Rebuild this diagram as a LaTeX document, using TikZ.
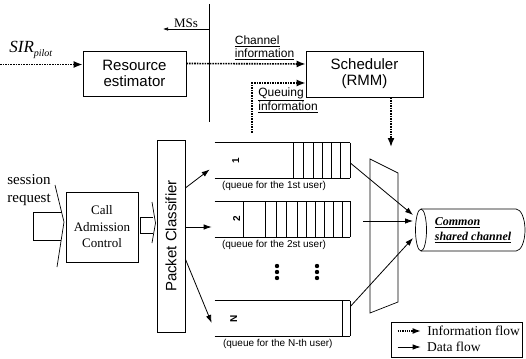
\documentclass[tikz,border=0pt]{standalone}
\usepackage{fontspec}
\setmainfont{Liberation Serif}
\setsansfont{Liberation Sans}
\usetikzlibrary{arrows.meta,positioning,calc}

\begin{document}
\begin{tikzpicture}[x=1pt,y=-1pt,>=Latex,line width=0.7pt,
 blk/.style={draw,inner sep=0pt,align=center,font=\sffamily\fontsize{15}{16}\selectfont},
 info/.style={densely dotted,line width=1.6pt,-{Latex[length=9pt,width=7pt]}},
 data/.style={line width=0.8pt,-{Latex[length=8pt,width=5.5pt]}},
 lbl/.style={inner sep=0pt,align=left,font=\sffamily\fontsize{12}{13}\selectfont},
 qlane/.style={inner sep=0pt,minimum width=135pt,minimum height=35pt},
 qnum/.style={inner sep=0pt,rotate=90,font=\sffamily\bfseries\fontsize{10}{10}\selectfont},
 qtxt/.style={inner sep=0pt,anchor=north west,font=\sffamily\fontsize{10}{11}\selectfont},
 legtxt/.style={inner sep=0pt,anchor=west,font=\fontsize{13.5}{13.5}\selectfont}]
 \useasboundingbox (0,0) rectangle (526,358);

 % upper part
 \node[blk,minimum width=103pt,minimum height=45pt] (est) at (134.5,73.5) {Resource\\estimator};
 \node[blk,minimum width=117pt,minimum height=46pt] (sch) at (364.5,74) {Scheduler\\(RMM)};
 \node[inner sep=0pt,anchor=base west,font=\itshape\fontsize{17}{17}\selectfont] (sir) at (9,53)
  {SIR\raisebox{-4pt}{\fontsize{10}{10}\selectfont pilot}};
 \coordinate (sirin) at (0,64.5);
 \draw[info] (sirin) -- (sirin -| est.west);
 \draw[info] ([yshift=10pt]est.east) -- ([yshift=10pt]sch.west)
  node[lbl,pos=0.40,anchor=south west,yshift=3pt] (chinfo) {\underline{Channel}\\\underline{information}};
 \coordinate (qin) at (252,133);
 \draw[info] (qin) |- ([yshift=-9pt]sch.west);
 \node[lbl,anchor=north west] (qinfo) at (258,87) {\underline{Queuing}\\\underline{information}};

 % MS border
 \coordinate (bt) at (209,4);
 \coordinate (bb) at (209,122);
 \coordinate (ms) at (163,29);
 \draw (bt) -- (bb);
 \draw[line width=0.6pt,-{Latex[length=5pt,width=3.5pt]}] (bt |- ms) -- (ms)
  node[pos=0.5,above=1pt,inner sep=0pt,font=\fontsize{13}{13}\selectfont] (mslbl) {MSs};

 % admission and classifier
 \node[inner sep=0pt,anchor=north west,align=left,font=\fontsize{15}{18}\selectfont] (sess) at (7,174) {session\\request};
 \node[draw,inner sep=0pt,align=center,minimum width=72pt,minimum height=70pt,
  font=\fontsize{13}{16.5}\selectfont] (cac) at (102,227) {Call\\Admission\\Control};
 \draw (55,185) -- (64,222) -- (57,267);
 \draw (61.6,212) -- (33,212) -- (33,240) -- (60.6,240);
 \draw (152,202) -- (155.5,223) -- (152,243);
 \draw (152.8,217) -- (140,217) -- (140,233) -- (152.8,233);
 \node[draw,inner sep=0pt,minimum width=28pt,minimum height=192pt] (pc) at (171,236) {};
 \node[inner sep=0pt,rotate=90,font=\sffamily\fontsize{15}{15}\selectfont] (pctxt) at (pc) {Packet Classifier};

 % queues
 \node[qlane] (q1) at (282.5,160.5) {};
 \node[qlane] (q2) at (282.5,219) {};
 \node[qlane] (qn) at (282.5,318.5) {};
 \foreach \q in {q1,q2,qn}
  \draw (\q.north west) -- (\q.north east) (\q.south west) -- (\q.south east);
 \foreach \x in {293,303,313,322,331,340,350}
  \draw (\x,0 |- q1.north) -- (\x,0 |- q1.south);
 \foreach \x in {243,265,276,286,297,306,315,324,333,342,350}
  \draw (\x,0 |- q2.north) -- (\x,0 |- q2.south);
 \foreach \x in {342,350}
  \draw (\x,0 |- qn.north) -- (\x,0 |- qn.south);
 \node[qnum] (n1) at ([xshift=21pt]q1.west) {1};
 \node[qnum] (n2) at ([xshift=22pt]q2.west) {2};
 \node[qnum] (nn) at ([xshift=19pt]qn.west) {N};
 \node[qtxt] (c1) at ([xshift=7pt,yshift=-3pt]q1.south west) {(queue for the 1st user)};
 \node[qtxt] (c2) at ([xshift=7pt,yshift=-3pt]q2.south west) {(queue for the 2st user)};
 \node[qtxt] (cn) at ([xshift=8pt,yshift=-3pt]qn.south west) {(queue for the N-th user)};
 \foreach \y in {266,272,278} {
  \fill (277,\y) circle (2.2pt);
  \fill (317,\y) circle (2.2pt);
 }
 \draw[data] ([yshift=48pt]pc.east) -- ([xshift=-5pt,yshift=-9pt]q1.west);
 \draw[data] ([yshift=9pt]pc.east) -- ([xshift=-3pt,yshift=-8pt]q2.west);
 \draw[data] ([yshift=-23pt]pc.east) -- ([xshift=-3pt,yshift=-4.5pt]qn.west);

 % multiplexer and channel
 \draw (370,159) -- (398,173) -- (398,302) -- (370,313) -- cycle;
 \coordinate (mxtop) at (391,147);
 \draw[info] (sch.south -| mxtop) -- (mxtop);
 \draw (421,230) ellipse [x radius=5.5pt,y radius=21pt];
 \draw (421,209) -- (516,209) arc[start angle=90,end angle=-90,x radius=9pt,y radius=21pt] -- (421,251);
 \node[inner sep=0pt,align=left,font=\bfseries\itshape\fontsize{12}{15}\selectfont] (chan) at (473,230)
  {\underline{Common}\\\underline{shared channel}};
 \coordinate (ch1) at (413,215);
 \coordinate (ch2) at (413,221);
 \coordinate (ch3) at (413,238);
 \draw[data] ([yshift=-2.5pt]q1.east) -- (ch1);
 \draw[data] ([xshift=13pt,yshift=-2pt]q2.east) -- (ch2);
 \draw[data] ([yshift=12pt]qn.east) -- (ch3);

 % legend
 \node[draw,inner sep=0pt,minimum width=131pt,minimum height=35pt] (leg) at (456.5,339.5) {};
 \draw[densely dotted,line width=1.3pt,-{Latex[length=8pt,width=6pt]}] ([xshift=7pt,yshift=8.5pt]leg.west) -- ++(23,0)
  node[legtxt,right=6pt] (lg1) {Information flow};
 \draw[data] ([xshift=7pt,yshift=-7.5pt]leg.west) -- ++(23,0)
  node[legtxt,right=6pt] (lg2) {Data flow};
\end{tikzpicture}
\end{document}
